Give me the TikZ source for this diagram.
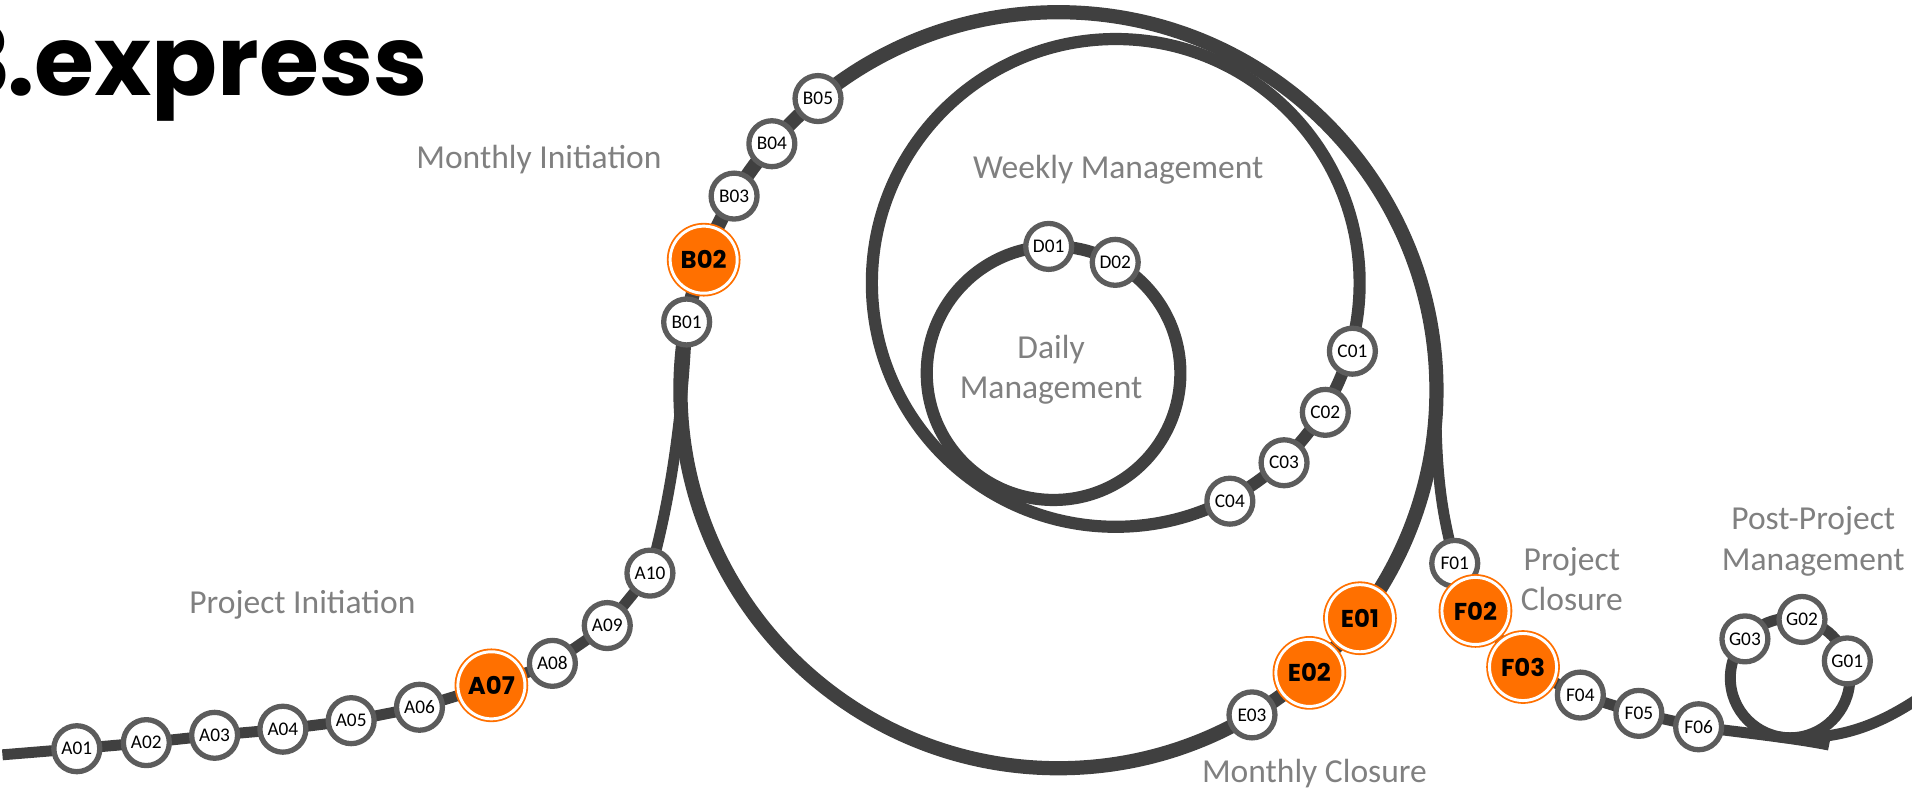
\documentclass[tikz,border=0pt]{standalone}
\usepackage{fontspec}
\setmainfont{Carlito}
\newfontfamily\poppins{Poppins}
\usetikzlibrary{calc}
\definecolor{track}{HTML}{404040}
\definecolor{ring}{HTML}{5C5C5C}
\definecolor{orng}{HTML}{FF7000}
\definecolor{lbl}{HTML}{808080}
\pgfdeclarelayer{bg}
\pgfsetlayers{bg,main}
\begin{document}
\begin{tikzpicture}[x=0.6pt,y=-0.6pt,
  st/.style={circle, fill=white, draw=ring, line width=2.6pt, minimum size=22.6pt, inner sep=0pt, font=\fontsize{9.5}{9.5}\selectfont},
  keyst/.style={circle, fill=orng, draw=orng, double=white, double distance=1.45pt, line width=0.9pt, minimum size=33pt, inner sep=0pt, font=\poppins\bfseries\fontsize{12}{12}\selectfont},
  lab/.style={text=lbl, font=\fontsize{16.5}{19.8}\selectfont, align=center, inner sep=0pt},
  bigtrk/.style={draw=track, line width=7pt},
  midtrk/.style={draw=track, line width=6pt},
  smalltrk/.style={draw=track, line width=5.4pt},
]
\clip (0,0) rectangle (1568,650);
% centres of the loops
\coordinate (O) at (868,320);
\coordinate (W) at (915,232);
\coordinate (Dc) at (864,306);
\coordinate (Gc) at (1468,556);
\coordinate (Astart) at (2,619);
\coordinate (Fsplit) at ($(O)+(3:310)$);
\coordinate (Gend) at (1500,611);
\coordinate (Gj) at (1476,605);
\coordinate (Exit) at (1576,571);

% title
\node[anchor=base east, inner sep=0pt, font=\poppins\bfseries\fontsize{47.8}{47.8}\selectfont] (title) at (351,78) {P3\kern-2pt.express};

% labels
\node[lab] (mi) at (442,131) {Monthly Initiation};
\node[lab] (wm) at (917,139) {Weekly Management};
\node[lab] (dm) at (862,303) {Daily\\Management};
\node[lab] (pi) at (248,496) {Project Initiation};
\node[lab] (pc) at (1289,475) {Project\\Closure};
\node[lab] (pp) at (1487,444) {Post-Project\\Management};
\node[lab] (mc) at (1078,634) {Monthly Closure};

% A stations
\node[st] (A01) at (63,614) {A01};
\node[st] (A02) at (120,609) {A02};
\node[st] (A03) at (176,603) {A03};
\node[st] (A04) at (232,598) {A04};
\node[st] (A05) at (288,591) {A05};
\node[st] (A06) at (344,580) {A06};
\node[keyst] (A07) at (403,562) {A07};
\node[st] (A08) at (453,544) {A08};
\node[st] (A09) at (498,513) {A09};
\node[st] (A10) at (533,470) {A10};
% B stations
\node[st] (B01) at ($(O)+(190.4:310)$) {B01};
\node[keyst] (B02) at ($(O)+(200.2:310)$) {B02};
\node[st] (B03) at ($(O)+(210.9:310)$) {B03};
\node[st] (B04) at ($(O)+(220.7:310)$) {B04};
\node[st] (B05) at ($(O)+(230.5:310)$) {B05};
% C stations
\node[st] (C01) at ($(W)+(16.1:202)$) {C01};
\node[st] (C02) at ($(W)+(31.7:202)$) {C02};
\node[st] (C03) at ($(W)+(46.9:202)$) {C03};
\node[st] (C04) at ($(W)+(62.4:202)$) {C04};
% D stations
\node[st] (D01) at ($(Dc)+(267.8:104)$) {D01};
\node[st] (D02) at ($(Dc)+(299.1:104)$) {D02};
% E stations
\node[keyst] (E01) at ($(O)+(37.1:310)$) {E01};
\node[keyst] (E02) at ($(O)+(48.4:310)$) {E02};
\node[st] (E03) at ($(O)+(59.2:310)$) {E03};
% F stations
\node[st] (F01) at (1193,462) {F01};
\node[keyst] (F02) at (1210,501) {F02};
\node[keyst] (F03) at (1249,547) {F03};
\node[st] (F04) at (1296,570) {F04};
\node[st] (F05) at (1344,585) {F05};
\node[st] (F06) at (1393,596) {F06};
% G stations
\node[st] (G01) at ($(Gc)+(343.4:49)$) {G01};
\node[st] (G02) at ($(Gc)+(281.5:49)$) {G02};
\node[st] (G03) at ($(Gc)+(220.9:49)$) {G03};

\begin{pgfonlayer}{bg}
  \draw[bigtrk] (O) circle[radius=310];
  \draw[midtrk] (W) circle[radius=200];
  \draw[midtrk] (Dc) circle[radius=104];
  \draw[smalltrk] (Gc) circle[radius=49];
  \draw[smalltrk, line join=round] (Astart) -- (A01.center) -- (A02.center) -- (A03.center) -- (A04.center) -- (A05.center) -- (A06.center) -- (A07.center) -- (A08.center) -- (A09.center) -- (A10.center) .. controls (550,410) and (560,340) .. (B01.center);
  \draw[smalltrk, line join=round] (Fsplit) .. controls (1178,405) and (1186,432) .. (F01.center) -- (F02.center) -- (F03.center) -- (F04.center) -- (F05.center) -- (F06.center) .. controls (1430,601) and (1470,605) .. (Gend);
  \draw[smalltrk] (Gj) .. controls (1515,605) and (1545,592) .. (Exit);
\end{pgfonlayer}
\end{tikzpicture}
\end{document}
